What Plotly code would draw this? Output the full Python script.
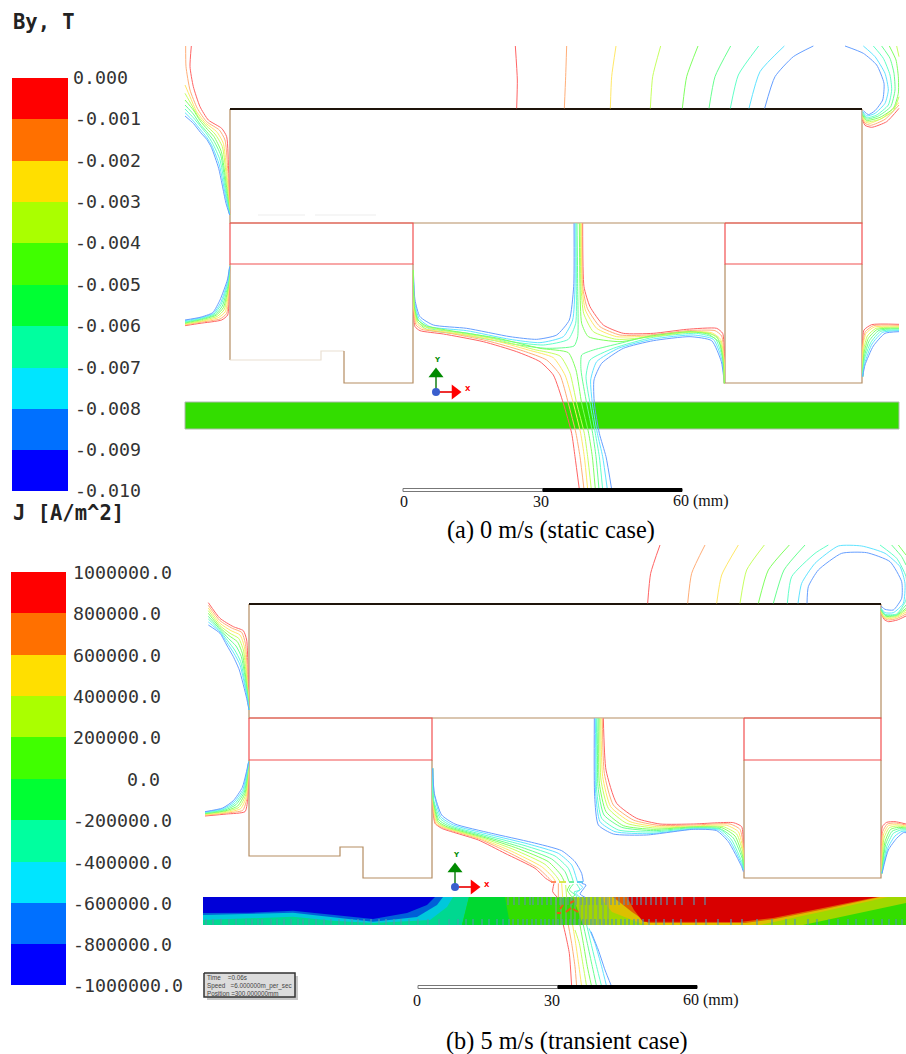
import plotly.graph_objects as go

LEVEL_COLORS = ['#ff6464', '#ffae78', '#ffe868', '#c6ff60', '#80ff60', '#68ff90', '#62ffc8', '#60e4ff', '#669fff']
BAND_COLORS = ['#ff0000', '#ff7000', '#ffdf00', '#aaff00', '#40ff00', '#00ff33', '#00ff9f', '#00e5ff', '#0070ff', '#0000ff']
TAN = '#b58d62'
RED = '#f25050'

BY_LABELS = ['0.000', '-0.001', '-0.002', '-0.003', '-0.004', '-0.005', '-0.006', '-0.007', '-0.008', '-0.009', '-0.010']
J_LABELS = ['1000000.0', '800000.0', '600000.0', '400000.0', '200000.0', '0.0', '-200000.0', '-400000.0', '-600000.0', '-800000.0', '-1000000.0']
BY_EDGES = [78, 119, 161, 202, 243, 285, 326, 368, 409, 450, 491]
J_EDGES = [572, 613, 655, 696, 737, 779, 820, 862, 903, 944, 985]

# Contour lines: point lists are read in 3x crop pixels (crop origin given at draw time)
A_TL = [
 [(34,18),(30,80),(40,140),(60,200),(85,240),(125,265),(140,290),(146,400),(149,525)],
 [(17,18),(18,80),(30,150),(52,205),(80,245),(118,270),(135,300),(145,420),(149,525)],
 [(15,135),(30,170),(50,215),(78,250),(110,275),(130,310),(144,440),(149,525)],
 [(15,160),(35,195),(55,230),(80,258),(105,282),(127,320),(143,450),(149,525)],
 [(15,180),(40,210),(60,242),(82,268),(102,290),(124,335),(142,460),(149,525)],
 [(15,195),(40,222),(60,252),(80,275),(100,300),(122,345),(141,470),(149,525)],
 [(15,207),(40,233),(62,260),(80,282),(98,310),(120,360),(140,475),(149,525)],
 [(15,218),(40,243),(62,270),(80,292),(96,318),(118,375),(139,480),(149,525)],
 [(15,228),(40,250),(62,278),(80,298),(94,322),(116,385),(138,490),(149,525)],
]
A_LOWLEFT = [
 [(15,857),(60,850),(125,840),(143,825),(147,760),(149,680)],
 [(15,855),(60,847),(120,837),(140,820),(146,755),(149,680)],
 [(15,853),(60,845),(115,833),(136,815),(146,750),(149,680)],
 [(15,851),(60,843),(112,829),(133,808),(145,745),(149,680)],
 [(15,849),(60,840),(108,826),(130,803),(145,740),(149,680)],
 [(15,847),(60,838),(105,824),(127,798),(144,735),(149,680)],
 [(15,845),(60,836),(102,822),(124,793),(143,730),(149,680)],
 [(15,842),(60,834),(100,820),(122,788),(143,725),(149,680)],
 [(15,840),(60,832),(98,818),(120,780),(142,720),(149,680)],
]
A_UPPER_LEFT = [
 [(531,10),(533,200),(533,350),(522,378),(440,385),(350,374),(200,346),(80,328),(53,305),(42,255),(40,150)],
 [(528,10),(529,200),(527,310),(505,358),(430,375),(340,366),(200,339),(85,325),(55,300),(43,250),(40,150)],
 [(525,10),(525,200),(518,300),(490,350),(420,368),(330,358),(200,332),(90,320),(57,295),(44,245),(40,150)],
 [(522,10),(521,200),(508,300),(470,345),(410,358),(330,350),(200,325),(100,315),(60,290),(45,240),(40,150)],
]
A_LOWER_LEFT = [
 [(40,150),(41,280),(45,320),(60,332),(130,342),(250,365),(350,395),(420,425),(460,465),(490,550),(515,640),(525,710),(538,808)],
 [(40,150),(42,275),(48,315),(65,328),(140,338),(260,362),(370,393),(440,420),(480,465),(505,550),(528,640),(540,710),(552,808)],
 [(40,150),(42,270),(50,310),(70,325),(150,338),(270,358),(385,390),(460,413),(495,465),(520,550),(542,640),(553,710),(563,808)],
 [(40,150),(43,265),(52,305),(75,320),(160,336),(280,356),(400,388),(480,408),(510,460),(530,550),(553,640),(563,710),(574,808)],
 [(40,150),(43,260),(54,300),(80,318),(170,335),(290,354),(420,385),(505,398),(528,450),(545,550),(566,640),(577,710),(586,808)],
]
A_LOWER_RIGHT = [
 [(597,808),(588,710),(578,640),(560,550),(543,450),(545,405),(580,390),(660,370),(760,345),(900,335),(950,350),(970,410),(973,490)],
 [(608,808),(598,710),(586,640),(570,550),(558,470),(570,420),(640,385),(760,352),(890,340),(945,355),(968,415),(973,490)],
 [(622,808),(608,710),(592,640),(577,550),(572,480),(590,425),(655,385),(760,357),(880,345),(940,358),(966,420),(973,490)],
 [(635,808),(618,710),(598,640),(583,550),(582,480),(605,430),(670,385),(760,362),(870,350),(935,362),(964,425),(973,490)],
]
A_UPPER_RIGHT = [
 [(548,10),(552,200),(570,260),(610,315),(670,340),(760,340),(860,328),(950,325),(968,340),(973,400),(973,490)],
 [(546,10),(548,200),(562,265),(600,320),(660,345),(760,344),(860,332),(945,332),(965,348),(972,410),(973,490)],
 [(544,10),(546,200),(556,270),(590,325),(650,350),(760,347),(860,335),(935,338),(962,358),(972,420),(973,490)],
 [(541,10),(543,200),(551,280),(580,335),(650,358),(760,350),(865,337),(930,340),(960,362),(971,425),(973,490)],
 [(538,10),(540,200),(545,310),(565,350),(660,365),(760,347),(870,335),(925,343),(958,368),(970,430),(973,490)],
]
A_FAR_RIGHT = [
 [(68,230),(68,130),(72,90),(95,74),(177,73)],
 [(68,230),(69,130),(76,95),(100,77),(177,76)],
 [(68,230),(69,140),(78,100),(103,81),(177,79)],
 [(68,230),(71,150),(82,108),(108,85),(177,82)],
 [(68,230),(72,160),(85,115),(112,88),(177,85)],
 [(68,230),(73,170),(88,122),(117,91),(177,87)],
 [(68,230),(73,180),(92,128),(122,94),(177,90)],
 [(68,230),(74,190),(96,132),(128,97),(177,92)],
 [(68,230),(75,195),(100,138),(135,100),(177,95)],
]
A_ARCS = [
 [(50,205),(52,120),(46,18)],
 [(193,205),(197,110),(200,18)],
 [(331,205),(335,110),(348,18)],
 [(451,205),(458,110),(482,18)],
 [(547,205),(560,110),(594,18)],
 [(627,205),(645,110),(692,18)],
 [(691,205),(715,105),(776,18)],
 [(747,205),(780,95),(853,18)],
 [(794,205),(825,110),(880,50),(940,18)],
]
A_CURLS = [
 [(1197,205),(1160,245),(1115,262),(1095,256),(1088,240)],
 [(1197,195),(1155,238),(1112,256),(1095,250),(1088,236)],
 [(1197,188),(1150,232),(1110,250),(1095,245),(1088,232)],
 [(1190,18),(1197,50)],
 [(1197,170),(1180,212),(1140,238),(1102,245),(1088,230)],
 [(1168,18),(1188,60),(1195,110),(1195,160),(1180,205),(1140,232),(1100,241),(1088,226)],
 [(1145,18),(1170,55),(1182,100),(1185,150),(1172,200),(1135,228),(1100,237),(1088,222)],
 [(1120,18),(1150,55),(1170,105),(1175,150),(1165,195),(1130,225),(1100,233),(1088,218)],
 [(1090,18),(1125,50),(1155,100),(1165,150),(1155,190),(1125,220),(1100,228),(1088,214)],
 [(1035,18),(1090,40),(1130,75),(1152,130),(1148,180),(1125,212),(1105,224),(1090,212)],
]
A_CURL_LEVELS = [0, 1, 2, 3, 3, 4, 5, 6, 7, 8]

B_TL = [
 [(625,308),(660,355),(700,380),(730,392),(740,420),(745,550),(747,630)],
 [(625,316),(660,362),(697,385),(725,397),(736,430),(744,560),(747,630)],
 [(625,324),(660,370),(693,392),(720,405),(733,440),(743,565),(747,630)],
 [(625,332),(660,377),(690,400),(716,415),(730,450),(743,570),(747,630)],
 [(625,340),(660,383),(687,407),(712,425),(727,460),(742,575),(747,630)],
 [(625,349),(660,388),(685,415),(708,438),(724,470),(742,580),(747,630)],
 [(625,357),(660,392),(683,422),(704,450),(722,485),(741,585),(747,630)],
 [(625,366),(660,396),(681,428),(702,460),(720,495),(741,590),(747,630)],
 [(625,375),(660,400),(680,435),(700,470),(718,510),(740,595),(747,630)],
]
B_LOWLEFT = [
 [(615,948),(680,942),(735,935),(743,900),(746,785)],
 [(615,946),(680,939),(728,931),(741,895),(746,785)],
 [(615,944),(680,937),(722,926),(739,890),(746,785)],
 [(615,942),(680,934),(717,922),(737,885),(746,785)],
 [(615,941),(678,932),(713,918),(735,880),(746,785)],
 [(615,939),(675,930),(708,914),(733,876),(746,785)],
 [(615,938),(672,928),(705,910),(731,872),(746,785)],
 [(615,936),(670,926),(702,906),(729,868),(746,785)],
 [(615,935),(668,924),(700,902),(727,862),(746,785)],
]
B_STEM = [
 [(70,25),(78,180),(110,280),(170,325),(240,342),(340,342),(460,338),(485,350),(490,400),(490,480)],
 [(67,25),(73,190),(100,285),(160,330),(235,346),(340,345),(450,342),(480,358),(490,410),(490,480)],
 [(63,25),(68,200),(92,290),(150,335),(230,350),(340,348),(440,346),(475,365),(489,420),(490,480)],
 [(60,25),(63,210),(85,295),(140,340),(225,354),(340,350),(430,350),(470,372),(489,430),(490,480)],
 [(57,25),(58,220),(78,305),(130,347),(220,358),(340,351),(425,353),(465,378),(488,440),(490,480)],
 [(54,25),(54,230),(72,315),(125,352),(220,362),(340,353),(420,356),(460,384),(488,450),(490,480)],
 [(50,25),(50,240),(65,325),(115,360),(220,366),(340,355),(420,358),(455,390),(487,460),(490,480)],
 [(47,25),(47,250),(60,335),(105,365),(210,371),(340,357),(415,360),(450,393),(486,465),(490,480)],
 [(43,25),(44,260),(55,345),(100,372),(200,375),(340,358),(410,362),(445,395),(485,470),(490,485)],
]
B_FAR_RIGHT = [
 [(905,490),(907,350),(920,337),(945,335),(978,342)],
 [(905,490),(908,365),(922,342),(945,339),(978,345)],
 [(906,490),(910,375),(925,347),(950,344),(978,348)],
 [(906,490),(912,385),(928,353),(952,348),(978,351)],
 [(906,490),(915,395),(932,358),(955,352),(978,354)],
 [(906,490),(917,403),(936,364),(958,356),(978,357)],
 [(906,490),(920,410),(940,370),(962,360),(978,360)],
 [(906,490),(923,415),(945,378),(966,364),(978,364)],
 [(906,490),(925,420),(950,385),(970,368),(978,368)],
]
B_TO_CENTRE = [
 [(23,25),(25,160),(30,190),(50,205),(160,240),(240,280),(330,325),(362,355),(378,365)],
 [(23,25),(25,150),(32,192),(55,204),(165,238),(250,277),(340,325),(372,355),(382,365)],
 [(23,25),(25,140),(35,190),(60,203),(170,237),(260,274),(350,320),(382,350),(392,365)],
 [(23,25),(25,130),(38,188),(65,203),(175,235),(270,270),(360,313),(395,350),(405,365)],
 [(23,25),(25,120),(40,185),(70,202),(180,233),(280,266),(370,305),(408,345),(418,365)],
 [(23,25),(24,115),(42,180),(75,200),(185,231),(290,262),(380,297),(420,335),(432,365)],
 [(23,25),(24,110),(45,175),(80,198),(190,228),(300,257),(390,288),(430,325),(445,365)],
 [(23,25),(28,105),(47,170),(85,195),(195,224),(310,252),(400,280),(440,315),(457,365)],
 [(23,25),(28,100),(50,165),(90,192),(200,220),(320,247),(410,272),(450,305),(470,340),(475,365)],
]
B_BELOW = [
 [(100,165),(108,200),(118,250),(125,350)],
 [(115,165),(125,220),(135,290),(140,350)],
 [(128,165),(137,220),(147,290),(155,350)],
 [(135,180),(148,220),(160,290),(170,350)],
 [(150,165),(160,220),(172,290),(185,350)],
 [(160,165),(172,220),(187,290),(200,350)],
 [(170,165),(183,220),(200,290),(215,350)],
 [(177,175),(195,220),(215,290),(230,350)],
 [(183,185),(205,240),(225,300),(245,350)],
]
B_STUBS = [
 [(72,40),(68,65),(82,82)],
 [(85,40),(85,82)],
 [(95,40),(98,82)],
 [(107,45),(110,82)],
 [(120,45),(112,60),(125,80)],
 [(130,42),(118,60),(135,75),(125,82)],
 [(140,42),(150,60),(132,66),(142,82)],
 [(148,42),(158,52),(138,70),(150,82)],
 [(155,40),(168,45),(158,60),(150,72),(165,82)],
]
B_ARCS = [
 [(263,190),(272,100),(300,15)],
 [(383,190),(395,100),(435,15)],
 [(470,190),(485,105),(535,15)],
 [(540,190),(560,90),(613,15)],
 [(595,190),(625,90),(688,15)],
 [(640,190),(672,90),(735,15)],
 [(682,190),(695,110),(765,40),(805,15)],
 [(714,190),(725,130),(765,70),(835,18),(905,18),(975,40),(1020,80),(1035,130),(1030,190),(1000,218),(975,218),(963,205)],
 [(741,190),(745,140),(775,90),(845,40),(920,38),(990,65),(1025,125),(1025,175),(1000,210),(975,208),(963,198)],
]
B_CURLS = [
 [(1038,228),(1012,240),(985,245),(972,238),(963,218)],
 [(1038,222),(1010,236),(985,240),(972,234),(963,216)],
 [(1038,216),(1010,232),(983,236),(970,231),(963,214)],
 [(1038,210),(1010,229),(980,232),(970,228),(963,212)],
 [(1015,15),(1038,45)],
 [(1038,205),(1010,226),(978,229),(963,210)],
 [(995,15),(1025,50),(1038,75)],
 [(1038,195),(1010,224),(975,226),(963,208)],
 [(960,15),(1010,55),(1038,110),(1038,180),(1010,222),(975,223),(963,206)],
]
B_CURL_LEVELS = [0, 1, 2, 3, 4, 4, 5, 5, 6]

# Yoke, magnets and teeth outlines in picture pixels
A_YOKE_X = [230, 230, 862, 862]; A_YOKE_Y = [109, 223, 223, 109]
A_TOP_X = [230, 862]; A_TOP_Y = [109, 109]
A_MAG_L_X = [230, 413, 413, 230, 230]; A_MAG_L_Y = [223, 223, 264, 264, 223]
A_MAG_R_X = [725, 862, 862, 725, 725]; A_MAG_R_Y = [223, 223, 264, 264, 223]
A_TOOTH_L_X = [230, 230]; A_TOOTH_L_Y = [264, 360]
A_FADE_X = [230, 321, 321, 344]; A_FADE_Y = [360, 360, 351, 351]
A_TOOTH_L2_X = [344, 344, 413, 413]; A_TOOTH_L2_Y = [351, 383, 383, 264]
A_TOOTH_R_X = [725, 725, 862, 862]; A_TOOTH_R_Y = [264, 383, 383, 264]
A_FAINT_X = [258, 305, None, 315, 376]; A_FAINT_Y = [215, 215, None, 215, 215]
A_STEEL_X = [185, 899, 899, 185, 185]; A_STEEL_Y = [402, 402, 429, 429, 402]

B_YOKE_X = [249, 249, 881, 881]; B_YOKE_Y = [604, 718, 718, 604]
B_TOP_X = [249, 881]; B_TOP_Y = [604, 604]
B_MAG_L_X = [249, 432, 432, 249, 249]; B_MAG_L_Y = [718, 718, 760, 760, 718]
B_MAG_R_X = [744, 881, 881, 744, 744]; B_MAG_R_Y = [718, 718, 760, 760, 718]
B_TOOTH_L_X = [249, 249, 340, 340, 363, 363, 432, 432]; B_TOOTH_L_Y = [760, 856, 856, 847, 847, 878, 878, 760]
B_TOOTH_R_X = [744, 744, 881, 881]; B_TOOTH_R_Y = [760, 878, 878, 760]

# Eddy-current strip regions (colour, x list, y list), back to front
STRIP_BASE = ('#33dd00', [203, 906, 906, 203], [897, 897, 925, 925])
STRIP_TEAL = ('#00d890', [203, 469, 462, 203], [897, 897, 925, 925])
STRIP_GREEN = ('#00d830', [469, 505, 510, 462], [897, 897, 925, 925])
STRIP_CYAN = ('#00c8dc', [203, 453, 447, 430, 373, 333, 293, 203], [897, 897, 907, 920, 923, 920.7, 916.7, 920])
STRIP_MID = ('#0060d8', [203, 443, 437, 417, 373, 333, 293, 203], [897, 897, 905, 917, 921.7, 917, 912.7, 915])
STRIP_DEEP = ('#0000d8', [203, 435, 427, 407, 373, 333, 293, 250, 203], [897, 897, 905, 913, 919, 915, 910.7, 912.7, 913])
STRIP_YG = ('#a0d800', [573, 906, 906, 803, 760, 600, 583], [897, 897, 903, 925, 925, 925, 925])
STRIP_YEL = ('#dcc000', [600, 888, 830, 780, 760, 645, 612], [897, 897, 910, 921, 925, 925, 912])
STRIP_ORG = ('#e06000', [613, 880, 825, 775, 745, 648, 632], [897, 897, 909, 919, 923, 923, 912])
STRIP_RED = ('#d80000', [627, 877, 823, 773, 740, 643, 634], [897, 897, 908, 918, 922, 921.7, 910])

TOP_SPECK_X = [508, 514, 519, 525, 530, 533, 538, 542, 547, 551, 556, 560, 563, 568, 572, 576, 581, 585, 589, 593, 597, 602, 606, 611,
               615, 619, 624, 628, 632, 637, 641, 646, 651, 656, 661, 667, 675, 682, 694, 705]
BOT_SPECK_X = [206, 213, 221, 229, 236, 246, 252, 258, 262, 271, 277, 284, 291, 298, 303, 309, 316, 324, 331, 339, 345, 352, 358, 364, 371,
               379, 386, 394, 401, 409, 418, 428, 439, 449, 458, 466, 473, 482, 489, 497, 503, 509, 513, 518, 523, 527, 532, 536, 541, 545,
               549, 553, 558, 562, 566, 570, 574, 579, 583, 587, 591, 595, 600, 604, 608, 612, 616, 621, 625, 629, 634, 638, 643, 649, 656,
               664, 673, 681, 696, 706, 718, 731, 742, 757, 772, 786, 795, 808, 817, 829, 838, 848, 856, 866, 873, 882, 889, 896, 902]
CORE_STREAK_X = [556, 561, 566, 571, 575, 580, 584, 588, 593, 598, 603, 608]
HOT_DASH_X = [560, 563, None, 566, 571, None, 573, 578, None, 570, 574, None, 557, 561]
HOT_DASH_Y = [909, 905, None, 912, 908, None, 909, 912, None, 903, 901, None, 913, 913]
ARTIFACT_X = [551, 556, None, 559, 566, None, 569, 574, None, 577, 583]
ARTIFACT_Y = [882, 882, None, 882, 882, None, 882, 882, None, 882, 882]
ARTIFACT_C = ['#ff8a60', '#d8e850', '#70f0a0', '#60c8f0']

BOX_X = [204, 295, 295, 204, 204]; BOX_Y = [973, 973, 997, 997, 973]
SHADOW_X = [207, 298, 298, 207, 207]; SHADOW_Y = [976, 976, 1000, 1000, 976]
BOX_TEXT = ['Time    =0.06s', 'Speed   =6.000000m_per_sec', 'Position =300.000000mm']

fig = go.Figure()


def line(xs, ys, color, width=1.2, shape='linear'):
    ln = dict(color=color, width=width, shape=shape)
    if shape == 'spline':
        ln['smoothing'] = 0.55
    fig.add_trace(go.Scatter(x=xs, y=ys, mode='lines', line=ln, hoverinfo='skip', showlegend=False))


def contours(family, ox, oy, levels=None):
    for i, pts in enumerate(family):
        lv = levels[i] if levels else i
        line([ox + p[0] / 3 for p in pts], [oy + p[1] / 3 for p in pts], LEVEL_COLORS[lv], 1.0, 'spline')


def area(region):
    fig.add_trace(go.Scatter(x=region[1], y=region[2], mode='lines', fill='toself', fillcolor=region[0],
                             line=dict(width=0, color=region[0]), hoverinfo='skip', showlegend=False))


def colorbar(x0, x1, edges):
    fig.add_trace(go.Heatmap(x=[x0, x1], y=edges, z=[[i] for i in range(10)], showscale=False, hoverinfo='skip',
                             zmin=-0.5, zmax=9.5,
                             colorscale=[[p, BAND_COLORS[int(k)]] for k in range(10) for p in (k / 10, (k + 1) / 10)]))


def triad(cx, cy, head_y, head_x):
    line([cx, cx], [cy, head_y], '#4f9f4f', 2)
    line([cx, head_x], [cy, cy], '#ee3030', 2)
    fig.add_trace(go.Scatter(x=[cx], y=[head_y], mode='markers', hoverinfo='skip', showlegend=False,
                             marker=dict(symbol='triangle-up', size=13, color='#008a00')))
    fig.add_trace(go.Scatter(x=[head_x], y=[cy], mode='markers', hoverinfo='skip', showlegend=False,
                             marker=dict(symbol='triangle-right', size=13, color='#ff0000')))
    fig.add_trace(go.Scatter(x=[cx], y=[cy], mode='markers', hoverinfo='skip', showlegend=False,
                             marker=dict(symbol='circle', size=8, color='#3a5fcd')))


def scalebar(x0, xm, x1, y):
    fig.add_trace(go.Scatter(x=[x0, xm, xm, x0, x0], y=[y - 1.5, y - 1.5, y + 1.5, y + 1.5, y - 1.5], mode='lines',
                             fill='toself', fillcolor='#ffffff', line=dict(color='#777777', width=1),
                             hoverinfo='skip', showlegend=False))
    fig.add_trace(go.Scatter(x=[xm, x1, x1, xm, xm], y=[y - 1.5, y - 1.5, y + 1.5, y + 1.5, y - 1.5], mode='lines',
                             fill='toself', fillcolor='#000000', line=dict(color='#000000', width=1),
                             hoverinfo='skip', showlegend=False))


# Colour bars
colorbar(12, 68, BY_EDGES)
colorbar(11, 66, J_EDGES)

# Panel (a): steel plate first, field lines over it
fig.add_trace(go.Scatter(x=A_STEEL_X, y=A_STEEL_Y, mode='lines', fill='toself', fillcolor='#33dd00',
                         line=dict(color='#b0b8b0', width=1), hoverinfo='skip', showlegend=False))
line(A_FAINT_X, A_FAINT_Y, '#eeeeee')
line(A_YOKE_X, A_YOKE_Y, TAN)
line(A_TOOTH_L_X, A_TOOTH_L_Y, TAN)
line(A_FADE_X, A_FADE_Y, '#eadfd2')
line(A_TOOTH_L2_X, A_TOOTH_L2_Y, TAN)
line(A_TOOTH_R_X, A_TOOTH_R_Y, TAN)
line(A_MAG_L_X, A_MAG_L_Y, RED)
line(A_MAG_R_X, A_MAG_R_Y, RED)
line(A_TOP_X, A_TOP_Y, '#1e140a', 1.8)
contours(A_TL, 180, 40)
contours(A_LOWLEFT, 180, 40)
contours(A_UPPER_LEFT, 400, 220, [5, 6, 7, 8])
contours(A_LOWER_LEFT, 400, 220, [0, 1, 2, 3, 4])
contours(A_LOWER_RIGHT, 400, 220, [5, 6, 7, 8])
contours(A_UPPER_RIGHT, 400, 220, [0, 1, 2, 3, 4])
contours(A_FAR_RIGHT, 840, 300)
contours(A_ARCS, 500, 40)
contours(A_CURLS, 500, 40, A_CURL_LEVELS)
triad(436, 392, 374, 455)
scalebar(403, 543, 682, 490)

# Panel (b): strip
for region in (STRIP_BASE, STRIP_TEAL, STRIP_GREEN, STRIP_CYAN, STRIP_MID, STRIP_DEEP, STRIP_YG, STRIP_YEL,
               STRIP_ORG, STRIP_RED):
    area(region)
top_x, top_y = [], []
for v in TOP_SPECK_X:
    top_x += [v, v, None]
    top_y += [897, 905, None]
line(top_x, top_y, '#5f93a8', 1.2)
bot_x, bot_y = [], []
for v in BOT_SPECK_X:
    bot_x += [v, v, None]
    bot_y += [919, 925, None]
line(bot_x, bot_y, '#4c9ab0', 1.2)
core_x, core_y = [], []
for v in CORE_STREAK_X:
    core_x += [v, v, None]
    core_y += [897, 925, None]
line(core_x, core_y, '#7fa878', 1.2)
line(HOT_DASH_X, HOT_DASH_Y, '#e85a10', 2)

line(B_YOKE_X, B_YOKE_Y, TAN)
line(B_TOOTH_L_X, B_TOOTH_L_Y, TAN)
line(B_TOOTH_R_X, B_TOOTH_R_Y, TAN)
line(B_MAG_L_X, B_MAG_L_Y, RED)
line(B_MAG_R_X, B_MAG_R_Y, RED)
line(B_TOP_X, B_TOP_Y, '#1e140a', 1.8)
contours(B_TL, 0, 500)
contours(B_LOWLEFT, 0, 500)
contours(B_STEM, 580, 710)
contours(B_FAR_RIGHT, 580, 710)
contours(B_TO_CENTRE, 425, 760)
contours(B_BELOW, 530, 870)
contours(B_STUBS, 530, 870)
contours(B_ARCS, 560, 540)
contours(B_CURLS, 560, 540, B_CURL_LEVELS)
for k, c in enumerate(ARTIFACT_C):
    i = k * 3
    line(ARTIFACT_X[i:i + 2], ARTIFACT_Y[i:i + 2], c, 2)
triad(455, 887, 869, 474)
scalebar(418, 558, 697, 987)

# Info box
fig.add_trace(go.Scatter(x=SHADOW_X, y=SHADOW_Y, mode='lines', fill='toself', fillcolor='#c8c8c8',
                         line=dict(color='#c8c8c8', width=0), hoverinfo='skip', showlegend=False))
fig.add_trace(go.Scatter(x=BOX_X, y=BOX_Y, mode='lines', fill='toself', fillcolor='#dcdcdc',
                         line=dict(color='#333333', width=1.5), hoverinfo='skip', showlegend=False))

MONO = 'DejaVu Sans Mono'
SERIF = 'Liberation Serif'
notes = []


def note(x, y, text, size, font, color='#222222', anchor='left'):
    notes.append(dict(x=x, y=y, xref='x', yref='y', text=text, showarrow=False, xanchor=anchor, yanchor='middle',
                      align=anchor, font=dict(family=font, size=size, color=color)))


note(11, 22, '<b>By, T</b>', 20.5, MONO)
note(11, 513, '<b>J [A/m^2]</b>', 20.5, MONO)
for lab, y in zip(BY_LABELS, BY_EDGES):
    note(71 if lab.startswith('0') else 72.5, y - 1, lab, 18.3, MONO, '#333333')
for lab, y in zip(J_LABELS, J_EDGES):
    if lab == '0.0':
        note(162, y, lab, 18.3, MONO, '#333333', 'right')
    else:
        note(71, y, lab, 18.3, MONO, '#333333')
note(404, 501, '0', 16, SERIF, '#111111', 'center')
note(541, 501, '30', 16, SERIF, '#111111', 'center')
note(671, 501, '60 (mm)', 16, SERIF, '#111111')
note(417, 1000, '0', 16, SERIF, '#111111', 'center')
note(552, 1000, '30', 16, SERIF, '#111111', 'center')
note(681, 1000, '60 (mm)', 16, SERIF, '#111111')
note(551, 530, '(a) 0 m/s (static case)', 24.3, SERIF, '#000000', 'center')
note(567, 1041, '(b) 5 m/s (transient case)', 24.3, SERIF, '#000000', 'center')
note(205, 977.5, BOX_TEXT[0], 6.3, 'Liberation Sans', '#444444')
note(205, 985.5, BOX_TEXT[1], 6.3, 'Liberation Sans', '#444444')
note(205, 993, BOX_TEXT[2], 6.3, 'Liberation Sans', '#444444')
note(437, 360, '<b>Y</b>', 7, 'DejaVu Sans', '#008a00', 'center')
note(468, 389, '<b>X</b>', 7, 'DejaVu Sans', '#ff0000', 'center')
note(456, 855, '<b>Y</b>', 7, 'DejaVu Sans', '#008a00', 'center')
note(487, 885, '<b>X</b>', 7, 'DejaVu Sans', '#ff0000', 'center')

fig.update_layout(width=906, height=1054, margin=dict(l=0, r=0, t=0, b=0), paper_bgcolor='white', plot_bgcolor='white',
                  showlegend=False, annotations=notes,
                  xaxis=dict(range=[0, 906], visible=False, fixedrange=True),
                  yaxis=dict(range=[1054, 0], visible=False, fixedrange=True))
fig.write_html("out.html", config=dict(displayModeBar=False),
               post_script="document.body.style.margin='0';document.documentElement.style.overflow='hidden';")
